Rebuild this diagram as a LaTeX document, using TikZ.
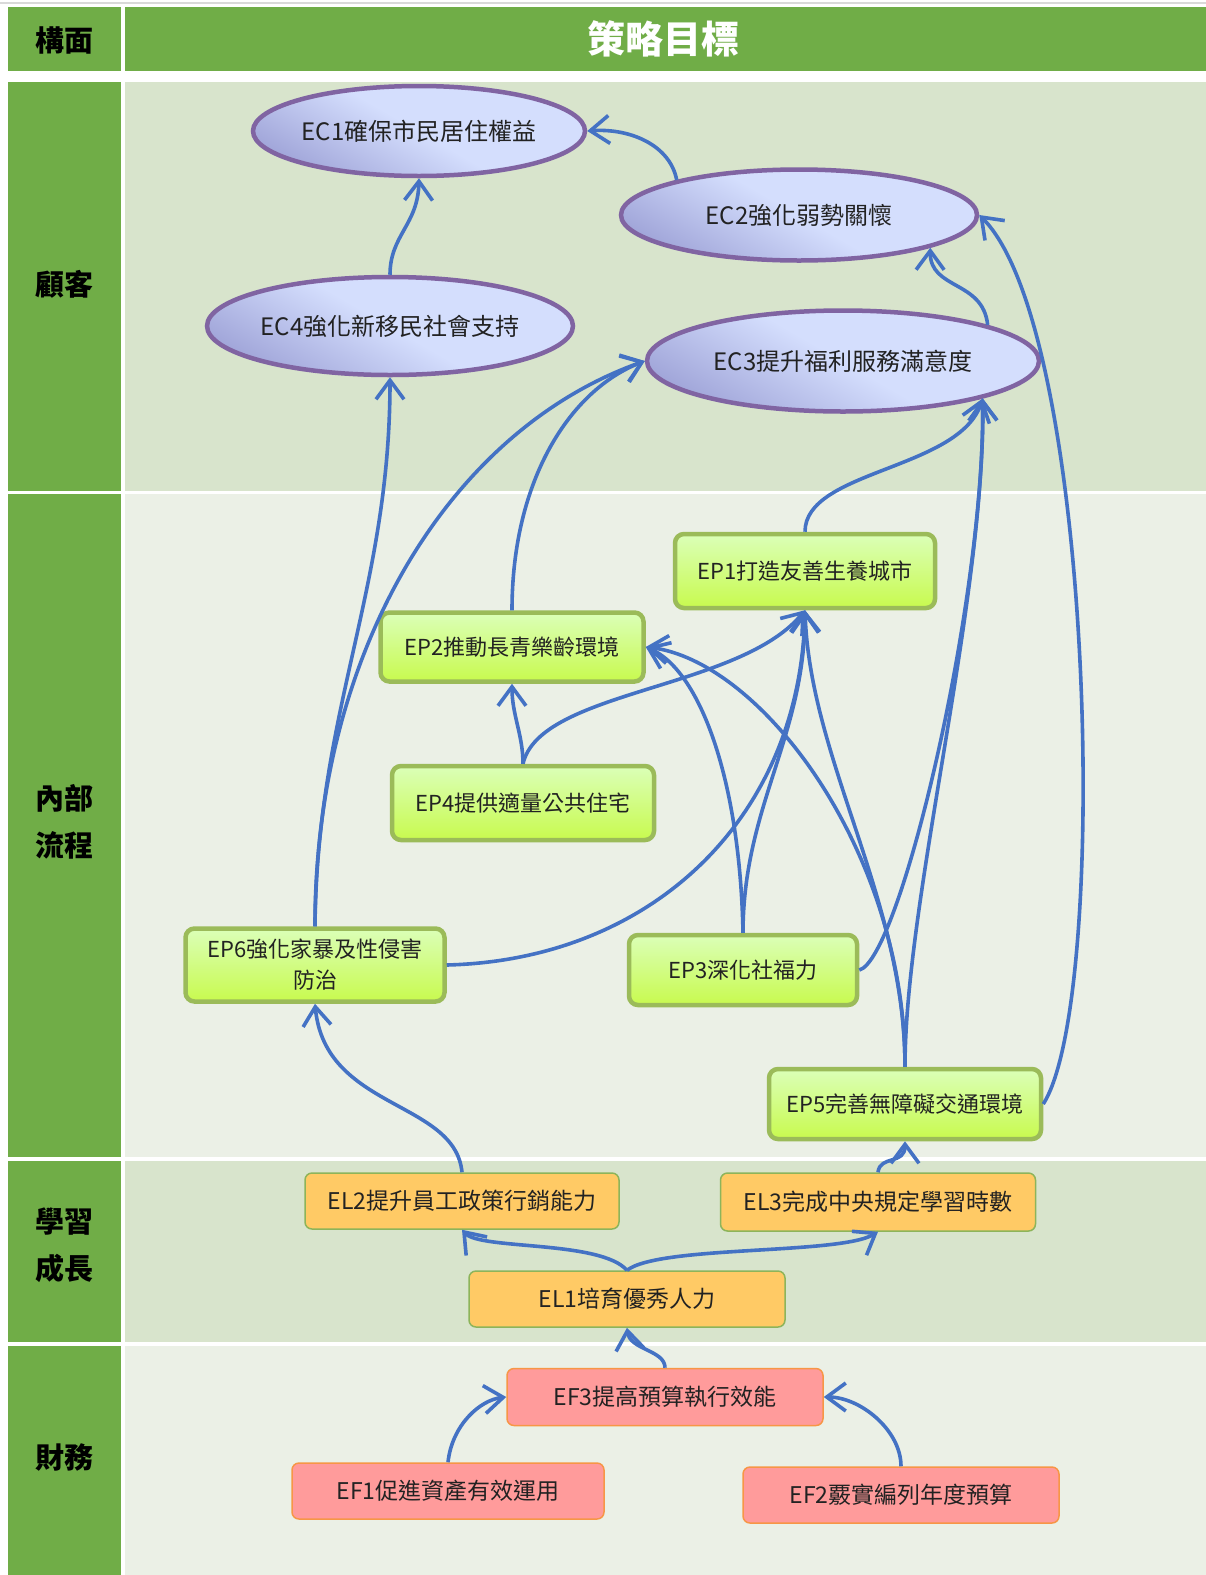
\documentclass[tikz,border=0pt]{standalone}
\usepackage{fontspec}
\setmainfont{Noto Sans CJK TC}
\usepackage{xcolor}
\usepackage{tikz}
\usetikzlibrary{shapes.geometric, arrows.meta}

\definecolor{lanegreen}{HTML}{70AD47}
\definecolor{bandlight}{HTML}{D8E4CC}
\definecolor{bandpale}{HTML}{EBF0E6}
\definecolor{ecborder}{HTML}{8064A2}
\definecolor{eclight}{HTML}{D4DEFD}
\definecolor{ecdark}{HTML}{A2A7DA}
\definecolor{epborder}{HTML}{9BBB59}
\definecolor{eplight}{HTML}{DBFFB8}
\definecolor{epdark}{HTML}{C8FA4E}
\definecolor{elfill}{HTML}{FFCA65}
\definecolor{elborder}{HTML}{8DB45A}
\definecolor{effill}{HTML}{FF9B9B}
\definecolor{efborder}{HTML}{F79646}
\definecolor{flowblue}{HTML}{4472C4}
\definecolor{txt}{HTML}{222222}

\begin{document}
\begin{tikzpicture}[x=1pt, y=-1pt,
    cust/.style={ellipse, draw=ecborder, line width=4.5pt, top color=eclight, bottom color=ecdark, middle color=eclight, shading angle=-30, inner sep=0pt, text=txt, font=\fontsize{24}{26}\selectfont},
    proc/.style={rectangle, rounded corners=9pt, draw=epborder, line width=4.5pt, top color=eplight, bottom color=epdark, inner sep=0pt, text=txt, align=center, font=\fontsize{22}{31}\selectfont},
    learn/.style={rectangle, rounded corners=7pt, draw=elborder, line width=1.5pt, fill=elfill, inner sep=0pt, text=txt, font=\fontsize{23}{26}\selectfont},
    fin/.style={rectangle, rounded corners=7pt, draw=efborder, line width=1.5pt, fill=effill, inner sep=0pt, text=txt, font=\fontsize{23}{26}\selectfont},
    lane/.style={text=black, align=center, font=\bfseries\fontsize{29}{47}\selectfont},
    flow/.style={draw=flowblue, line width=3.6pt, -{Straight Barb[length=19pt, width=28pt]}}]
    \useasboundingbox (0,0) rectangle (1206,1575);

    % lanes
    \draw[black!15, line width=2pt] (0,3) -- (1206,3);
    \fill[lanegreen] (8,7) rectangle (121,71);
    \fill[lanegreen] (125,7) rectangle (1206,71);
    \fill[lanegreen] (8,82) rectangle (121,491);
    \fill[bandlight] (125,82) rectangle (1206,491);
    \fill[lanegreen] (8,494) rectangle (121,1157);
    \fill[bandpale] (125,494) rectangle (1206,1157);
    \fill[lanegreen] (8,1161) rectangle (121,1342);
    \fill[bandlight] (125,1161) rectangle (1206,1342);
    \fill[lanegreen] (8,1346) rectangle (121,1575);
    \fill[bandpale] (125,1346) rectangle (1206,1575);

    \node[lane] (hdim) at (64,40) {構面};
    \node[text=white, font=\bfseries\fontsize{38}{40}\selectfont] (hgoal) at (663,39) {策略目標};
    \node[lane] (lcust) at (64,284) {顧客};
    \node[lane] (lproc) at (64,822) {內部\\流程};
    \node[lane] (llearn) at (64,1245) {學習\\成長};
    \node[lane] (lfin) at (64,1457) {財務};

    % customer
    \node[cust, minimum width=328pt, minimum height=90pt] (ec1) at (419,131) {EC1確保市民居住權益};
    \node[cust, minimum width=356pt, minimum height=91pt] (ec2) at (799,215) {EC2強化弱勢關懷};
    \node[cust, minimum width=362pt, minimum height=98pt] (ec4) at (390,326) {EC4強化新移民社會支持};
    \node[cust, minimum width=392pt, minimum height=101pt] (ec3) at (843,361) {EC3提升福利服務滿意度};

    % internal process
    \node[proc, minimum width=260pt, minimum height=74pt] (ep1) at (805,571) {EP1打造友善生養城市};
    \node[proc, minimum width=263pt, minimum height=69pt] (ep2) at (512,647) {EP2推動長青樂齡環境};
    \node[proc, minimum width=262pt, minimum height=74pt] (ep4) at (523,803) {EP4提供適量公共住宅};
    \node[proc, minimum width=259pt, minimum height=73pt] (ep6) at (315,965) {EP6強化家暴及性侵害\\防治};
    \node[proc, minimum width=228pt, minimum height=70pt] (ep3) at (743,970) {EP3深化社福力};
    \node[proc, minimum width=272pt, minimum height=70pt] (ep5) at (905,1104) {EP5完善無障礙交通環境};

    % learning and growth
    \node[learn, minimum width=314pt, minimum height=56pt] (el2) at (462,1201) {EL2提升員工政策行銷能力};
    \node[learn, minimum width=315pt, minimum height=58pt] (el3) at (878,1202) {EL3完成中央規定學習時數};
    \node[learn, minimum width=316pt, minimum height=56pt] (el1) at (627,1299) {EL1培育優秀人力};

    % finance
    \node[fin, minimum width=316pt, minimum height=57pt] (ef3) at (665,1397) {EF3提高預算執行效能};
    \node[fin, minimum width=312pt, minimum height=56pt] (ef1) at (448,1491) {EF1促進資產有效運用};
    \node[fin, minimum width=316pt, minimum height=56pt] (ef2) at (901,1495) {EF2覈實編列年度預算};

    \draw[flow] (ec4.north) .. controls (390,235) and (418,225) .. (ec1.south);
    \draw[flow] (ec2.164) .. controls (670,145) and (630,128) .. (ec1.east);
    \draw[flow] (ec3.14) .. controls (983,280) and (930,290) .. (ec2.-14);
    \draw[flow] (ep5.east) .. controls (1110,1000) and (1095,330) .. (ec2.east);

    \draw[flow] (ep6.north) .. controls (317,710) and (390,590) .. (ec4.south);
    \draw[flow] (ep6.north) .. controls (315,650) and (450,430) .. (ec3.west);
    \draw[flow] (ep2.north) .. controls (512,480) and (570,390) .. (ec3.west);
    \draw[flow] (ep1.north) .. controls (805,470) and (960,470) .. (ec3.-15);
    \draw[flow] (ep3.east) .. controls (900,960) and (985,600) .. (ec3.-15);
    \draw[flow] (ep5.north) .. controls (905,900) and (985,600) .. (ec3.-15);

    \draw[flow] (ep4.north) .. controls (523,735) and (512,715) .. (ep2.south);
    \draw[flow] (ep4.north) .. controls (540,690) and (740,690) .. (ep1.south);
    \draw[flow] (ep6.east) .. controls (650,960) and (800,820) .. (ep1.south);
    \draw[flow] (ep3.north) .. controls (743,807) and (805,736) .. (ep1.south);
    \draw[flow] (ep3.north) .. controls (740,780) and (700,670) .. (ep2.east);
    \draw[flow] (ep5.north) .. controls (905,850) and (760,660) .. (ep2.east);
    \draw[flow] (ep5.north) .. controls (905,900) and (810,760) .. (ep1.south);

    \draw[flow] (el3.north) .. controls (880,1155) and (905,1165) .. (ep5.south);
    \draw[flow] (el2.north) .. controls (455,1100) and (325,1110) .. (ep6.south);
    \draw[flow] (el1.north) .. controls (600,1240) and (480,1250) .. (el2.south);
    \draw[flow] (el1.north) .. controls (660,1245) and (840,1255) .. (el3.south);

    \draw[flow] (ef3.north) .. controls (665,1350) and (630,1350) .. (el1.south);
    \draw[flow] (ef1.north) .. controls (452,1425) and (480,1400) .. (ef3.west);
    \draw[flow] (ef2.north) .. controls (901,1430) and (860,1397) .. (ef3.east);
\end{tikzpicture}
\end{document}
